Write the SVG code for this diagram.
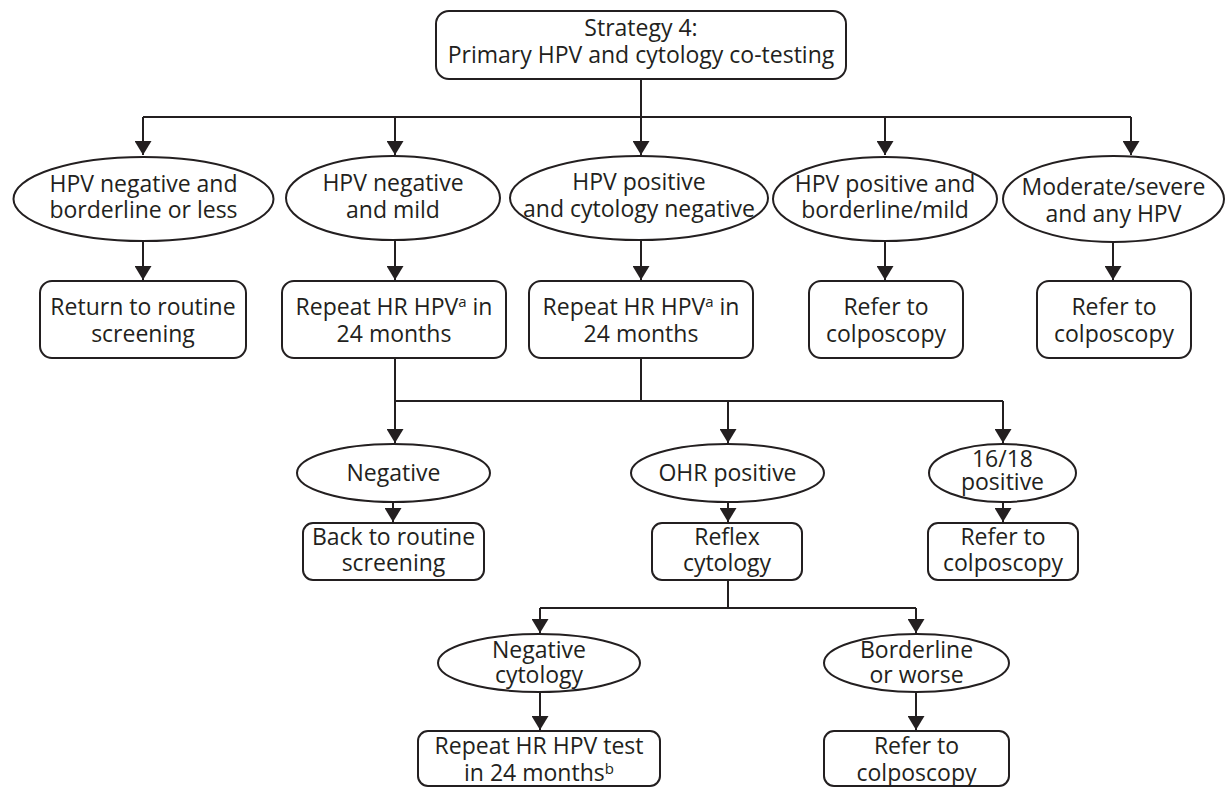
<svg xmlns="http://www.w3.org/2000/svg" width="1226" height="787" viewBox="0 0 1226 787">
  <style>
    .box { fill: #ffffff; stroke: #231f20; stroke-width: 2; }
    .oval { fill: #ffffff; stroke: #231f20; stroke-width: 2; }
    .lbl { font-family: "Open Sans", "Noto Sans", sans-serif; font-size: 23px; fill: #231f20; text-anchor: middle; }
    .sup { font-size: 15px; }
    .wire { fill: none; stroke: #231f20; stroke-width: 2; }
    .arr { fill: none; stroke: #231f20; stroke-width: 2; marker-end: url(#head); }
  </style>
  <defs>
    <marker id="head" markerUnits="userSpaceOnUse" viewBox="0 0 14 17" refX="14" refY="8.5" markerWidth="14" markerHeight="17" orient="auto">
      <path d="M0,0 L14,8.5 L0,17 Z" fill="#231f20"/>
    </marker>
  </defs>
  <rect width="1226" height="787" fill="#ffffff"/>

  <!-- connectors -->
  <g id="connectors">
    <!-- start box to first decision row -->
    <path class="wire" d="M641,79 V117 M143,117 H1131"/>
    <path class="arr" d="M143,117 V155"/>
    <path class="arr" d="M395,117 V155"/>
    <path class="arr" d="M641,117 V155"/>
    <path class="arr" d="M885,117 V155"/>
    <path class="arr" d="M1131,117 V155"/>
    <!-- first decision row to actions -->
    <path class="arr" d="M143,241 V280"/>
    <path class="arr" d="M395,241 V280"/>
    <path class="arr" d="M641,240 V280"/>
    <path class="arr" d="M885,241 V280"/>
    <path class="arr" d="M1113,242 V280"/>
    <!-- repeat tests to second decision row -->
    <path class="arr" d="M395,358 V443"/>
    <path class="wire" d="M641,358 V401 M395,401 H1003"/>
    <path class="arr" d="M728,401 V443"/>
    <path class="arr" d="M1003,401 V443"/>
    <path class="arr" d="M393,502 V522"/>
    <path class="arr" d="M728,502 V522"/>
    <path class="arr" d="M1003,502 V522"/>
    <!-- reflex cytology split -->
    <path class="wire" d="M728,580 V608 M540,608 H916"/>
    <path class="arr" d="M540,608 V633"/>
    <path class="arr" d="M916,608 V633"/>
    <path class="arr" d="M540,692 V730"/>
    <path class="arr" d="M916,692 V730"/>
  </g>

  <g id="start">
    <rect class="box" x="436" y="11" width="410" height="68" rx="13"/>
    <text class="lbl" x="641" y="36">Strategy 4:</text>
    <text class="lbl" x="641" y="63">Primary HPV and cytology co-testing</text>
  </g>

  <g id="neg-borderline">
    <ellipse class="oval" cx="143.5" cy="199" rx="130" ry="42"/>
    <text class="lbl" x="143.5" y="192">HPV negative and</text>
    <text class="lbl" x="143.5" y="218">borderline or less</text>
  </g>
  <g id="neg-mild">
    <ellipse class="oval" cx="393" cy="198" rx="107" ry="42"/>
    <text class="lbl" x="393" y="191">HPV negative</text>
    <text class="lbl" x="393" y="218">and mild</text>
  </g>
  <g id="pos-cyto-neg">
    <ellipse class="oval" cx="639" cy="198" rx="129" ry="42"/>
    <text class="lbl" x="639" y="190">HPV positive</text>
    <text class="lbl" x="639" y="217">and cytology negative</text>
  </g>
  <g id="pos-borderline">
    <ellipse class="oval" cx="885" cy="199" rx="112" ry="42"/>
    <text class="lbl" x="885" y="192">HPV positive and</text>
    <text class="lbl" x="885" y="218">borderline/mild</text>
  </g>
  <g id="moderate-severe">
    <ellipse class="oval" cx="1113.5" cy="199" rx="110.5" ry="43"/>
    <text class="lbl" x="1113.5" y="195">Moderate/severe</text>
    <text class="lbl" x="1113.5" y="222">and any HPV</text>
  </g>

  <g id="return-routine">
    <rect class="box" x="40" y="281" width="206" height="77" rx="12"/>
    <text class="lbl" x="143" y="315">Return to routine</text>
    <text class="lbl" x="143" y="342">screening</text>
  </g>
  <g id="repeat-1">
    <rect class="box" x="282" y="281" width="224" height="77" rx="12"/>
    <text class="lbl" x="394" y="315">Repeat HR HPV<tspan class="sup" dy="-8">a</tspan><tspan dy="8"> in</tspan></text>
    <text class="lbl" x="394" y="342">24 months</text>
  </g>
  <g id="repeat-2">
    <rect class="box" x="529" y="281" width="224" height="77" rx="12"/>
    <text class="lbl" x="641" y="315">Repeat HR HPV<tspan class="sup" dy="-8">a</tspan><tspan dy="8"> in</tspan></text>
    <text class="lbl" x="641" y="342">24 months</text>
  </g>
  <g id="refer-1">
    <rect class="box" x="809" y="281" width="154" height="77" rx="12"/>
    <text class="lbl" x="886" y="315">Refer to</text>
    <text class="lbl" x="886" y="342">colposcopy</text>
  </g>
  <g id="refer-2">
    <rect class="box" x="1037" y="281" width="154" height="77" rx="12"/>
    <text class="lbl" x="1114" y="315">Refer to</text>
    <text class="lbl" x="1114" y="342">colposcopy</text>
  </g>

  <g id="negative">
    <ellipse class="oval" cx="393.5" cy="473" rx="96.5" ry="29"/>
    <text class="lbl" x="393.5" y="481">Negative</text>
  </g>
  <g id="ohr-positive">
    <ellipse class="oval" cx="727.5" cy="473" rx="96.5" ry="29"/>
    <text class="lbl" x="727.5" y="481">OHR positive</text>
  </g>
  <g id="hpv1618-positive">
    <ellipse class="oval" cx="1002.5" cy="473" rx="73.5" ry="29"/>
    <text class="lbl" x="1002.5" y="467">16/18</text>
    <text class="lbl" x="1002.5" y="490">positive</text>
  </g>

  <g id="back-routine">
    <rect class="box" x="303" y="523" width="181" height="57" rx="10"/>
    <text class="lbl" x="393.5" y="545">Back to routine</text>
    <text class="lbl" x="393.5" y="571">screening</text>
  </g>
  <g id="reflex">
    <rect class="box" x="652" y="523" width="150" height="57" rx="10"/>
    <text class="lbl" x="727" y="545">Reflex</text>
    <text class="lbl" x="727" y="571">cytology</text>
  </g>
  <g id="refer-3">
    <rect class="box" x="928" y="523" width="150" height="57" rx="10"/>
    <text class="lbl" x="1003" y="545">Refer to</text>
    <text class="lbl" x="1003" y="571">colposcopy</text>
  </g>

  <g id="negative-cytology">
    <ellipse class="oval" cx="539" cy="663" rx="101" ry="29"/>
    <text class="lbl" x="539" y="658">Negative</text>
    <text class="lbl" x="539" y="683">cytology</text>
  </g>
  <g id="borderline-worse">
    <ellipse class="oval" cx="916.5" cy="663" rx="92.5" ry="29"/>
    <text class="lbl" x="916.5" y="658">Borderline</text>
    <text class="lbl" x="916.5" y="683">or worse</text>
  </g>

  <g id="repeat-test">
    <rect class="box" x="418" y="731" width="242" height="55" rx="10"/>
    <text class="lbl" x="539" y="754">Repeat HR HPV test</text>
    <text class="lbl" x="539" y="781">in 24 months<tspan class="sup" dy="-7">b</tspan></text>
  </g>
  <g id="refer-4">
    <rect class="box" x="824" y="731" width="185" height="55" rx="10"/>
    <text class="lbl" x="916.5" y="754">Refer to</text>
    <text class="lbl" x="916.5" y="781">colposcopy</text>
  </g>
</svg>
